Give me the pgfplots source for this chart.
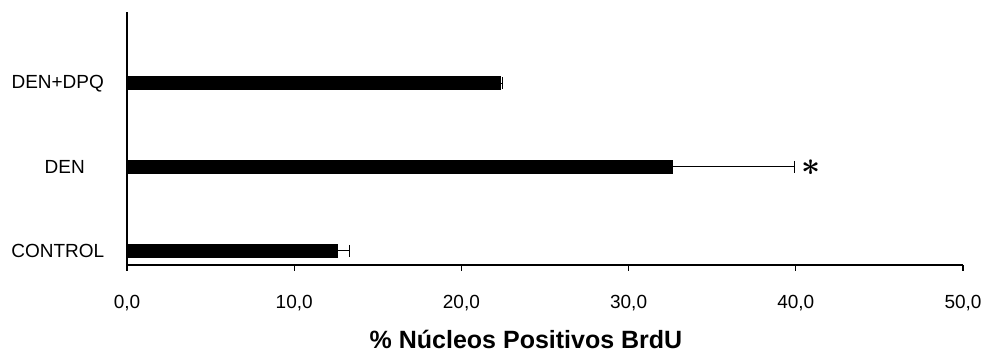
\documentclass[border=0pt]{standalone}
\usepackage{fontspec}
\setmainfont{Liberation Sans}
\usepackage{pgfplots}
\pgfplotsset{compat=1.18}
\begin{document}
\begin{tikzpicture}
% page frame (1px = 0.75pt)
\useasboundingbox (-95.25pt,-65.25pt) rectangle (644.25pt,198.75pt);
\begin{axis}[
  at={(0,0)}, anchor=south west,
  scale only axis,
  width=627pt, height=189.75pt,
  xbar, bar width=9.75pt,
  xmin=0, xmax=50,
  ymin=-0.17, ymax=2.85,
  axis x line*=bottom, axis y line*=left,
  axis line style={line width=0.8pt, -},
  xtick={0,10,...,50},
  ytick={0,1,2},
  yticklabels={CONTROL,\hspace*{10.5pt}DEN,DEN+DPQ},
  tick align=outside,
  major tick length=4.5pt,
  xtick style={line width=0.8pt, black},
  ytick style={draw=none},
  /pgf/number format/.cd, fixed, fixed zerofill, precision=1, use comma, assume math mode=true,
  /pgfplots/.cd,
  ticklabel style={font=\fontsize{14.25}{17}\selectfont},
  xticklabel style={anchor=north, inner sep=0pt, yshift=-18pt},
  yticklabel style={anchor=east, inner sep=0pt, text width=75pt, align=center, xshift=-9.75pt},
  xlabel={\% Núcleos Positivos BrdU},
  xlabel style={font=\fontsize{18.75}{22}\selectfont\bfseries,
    at={(axis description cs:0.4773,0)}, anchor=center, yshift=-55.5pt},
  clip=false,
]
\addplot[fill=black, draw=black,
  error bars/.cd, x dir=plus, x explicit,
  error mark=|,
  error bar style={line width=0.75pt, black},
  error mark options={line width=0.75pt, mark size=4.5pt, black}]
  coordinates {
    (12.55,0) +- (0.75,0)
    (32.6,1)  +- (7.3,0)
    (22.3,2)  +- (0.15,0)
  };
\coordinate (star) at (axis cs:39.9,1);
\end{axis}
\node[anchor=west, inner sep=0pt, xshift=5pt, yshift=-0.75pt,
  font=\fontsize{26}{26}\selectfont\mathversion{bold}] at (star) {$\ast$};
\end{tikzpicture}
\end{document}
